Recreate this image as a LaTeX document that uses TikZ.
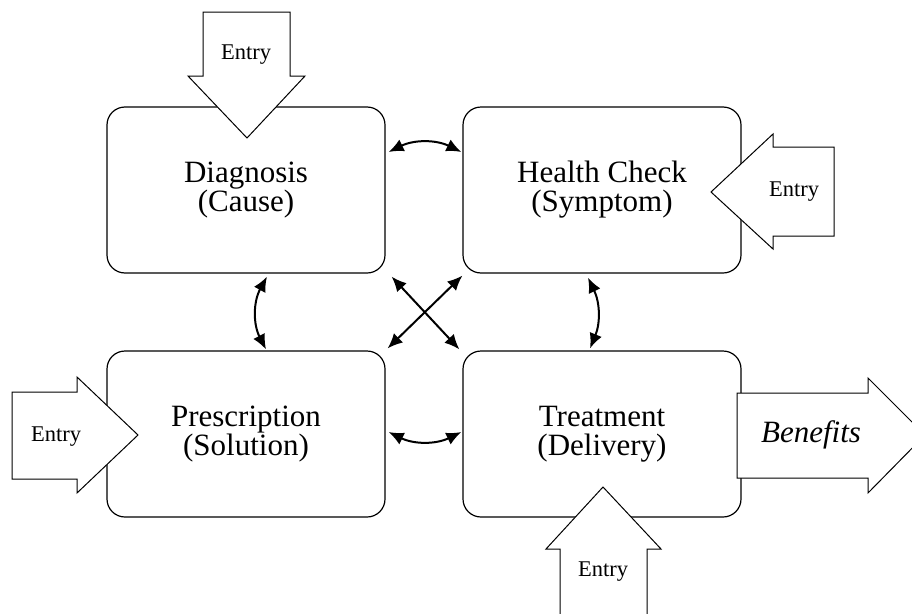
\documentclass[tikz,border=0pt]{standalone}
\usepackage{fontspec}
\setmainfont{Liberation Serif}
\usetikzlibrary{arrows.meta,calc}
\begin{document}
\lineskiplimit=-100pt
\begin{tikzpicture}[x=1pt,y=-1pt,
  stagebox/.style={draw, line width=1.2pt, rounded corners=18pt,
    minimum width=278pt, minimum height=166pt, inner sep=0pt,
    align=center, font=\fontsize{31}{29}\selectfont},
  blockarrow/.style={draw, fill=white, line width=1pt, line join=miter},
  entrytext/.style={font=\fontsize{22.5}{26}\selectfont, inner sep=0pt},
  link/.style={line width=2pt, {Latex[length=15pt,width=13pt]}-{Latex[length=15pt,width=13pt]}}]
\useasboundingbox (0,0) rectangle (912,613);

% the four stages
\node[stagebox] (diag)   at (246,190) {Diagnosis\\(Cause)};
\node[stagebox] (health) at (602,190) {Health Check\\(Symptom)};
\node[stagebox] (presc)  at (246,434) {Prescription\\(Solution)};
\node[stagebox] (treat)  at (602,434) {Treatment\\(Delivery)};

% entry points, drawn over the box outlines
\draw[blockarrow] (203,12) -- (290,12) -- (290,76) -- (305,76) -- (247,138)
  -- (188,76) -- (203,76) -- cycle;
\node[entrytext] (entrytop) at (246,55) {Entry};

\draw[blockarrow] (834,147) -- (773,147) -- (773,134) -- (711,192)
  -- (773,249) -- (773,236) -- (834,236) -- cycle;
\node[entrytext] (entryright) at (794,192) {Entry};

\draw[blockarrow] (12,392) -- (77,392) -- (77,377) -- (138,435)
  -- (77,493) -- (77,479) -- (12,479) -- cycle;
\node[entrytext] (entryleft) at (56,437) {Entry};

\draw[blockarrow] (560,630) -- (560,549) -- (546,549) -- (603,487)
  -- (661,549) -- (647,549) -- (647,630) -- cycle;
\node[entrytext] (entrybottom) at (603,572) {Entry};

% outcome
\draw[blockarrow] (737,393) -- (868,393) -- (868,378) -- (925,435)
  -- (868,493) -- (868,478) -- (737,478) -- cycle;
\node[font=\fontsize{31}{27}\selectfont\itshape, inner sep=0pt] (benefits) at (811,435) {Benefits};

% links between stages
\draw[link] ($(diag.east)+(3,-38)$) to[bend left=26] ($(health.west)+(-1,-38)$);
\draw[link] ($(presc.east)+(3,-2)$) to[bend right=26] ($(treat.west)+(-1,-2)$);
\draw[link] ($(diag.south)+(21,3)$) to[bend right=28] ($(presc.north)+(20,-1)$);
\draw[link] ($(health.south)+(-14,4)$) to[bend left=24] ($(treat.north)+(-12,-2)$);
\draw[link] ($(diag.south east)+(6,3)$) -- ($(treat.north west)+(-3,-1)$);
\draw[link] ($(health.south west)+(0,2)$) -- ($(presc.north east)+(2,-2)$);
\end{tikzpicture}
\end{document}
